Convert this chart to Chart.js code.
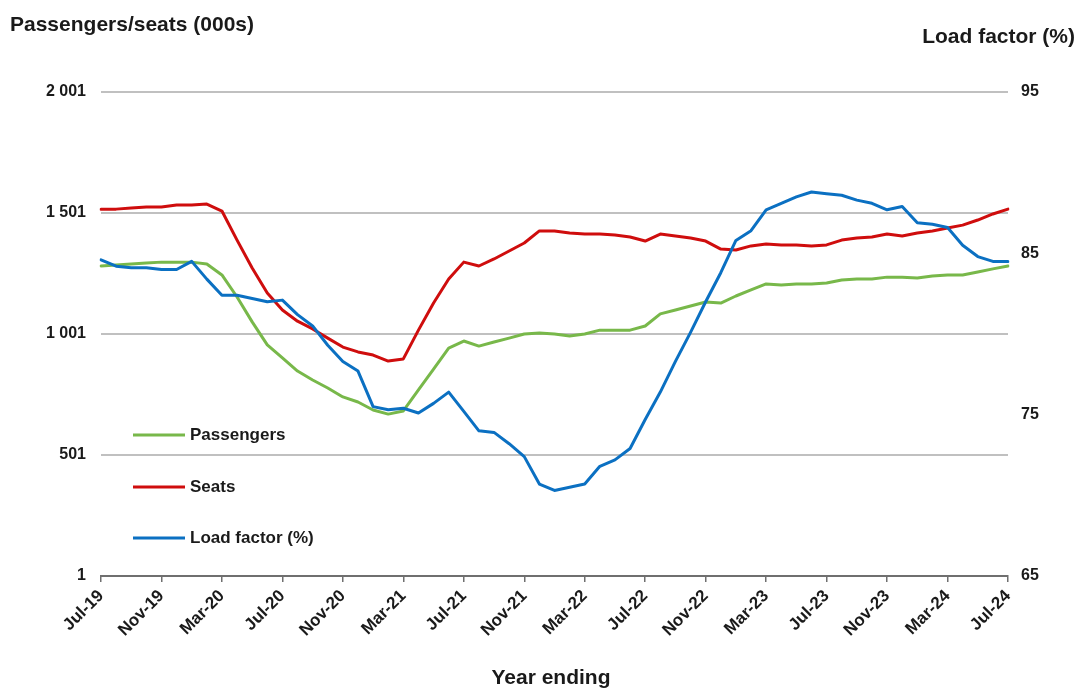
<!DOCTYPE html>
<html>
<head>
<meta charset="utf-8">
<script src="https://cdn.jsdelivr.net/npm/chart.js@4.4.1/dist/chart.umd.min.js"></script>
<style>
  html, body { margin: 0; padding: 0; background: #fff; }
  canvas { display: block; }
</style>
</head>
<body>
<canvas id="chartLoadFactor" width="1083" height="688"></canvas>
<script>
/* ---- données (year ending, Jul-19 -> Jul-24) ---- */
var months = ['Jul-19','Aug-19','Sep-19','Oct-19','Nov-19','Dec-19',
  'Jan-20','Feb-20','Mar-20','Apr-20','May-20','Jun-20','Jul-20','Aug-20','Sep-20','Oct-20','Nov-20','Dec-20',
  'Jan-21','Feb-21','Mar-21','Apr-21','May-21','Jun-21','Jul-21','Aug-21','Sep-21','Oct-21','Nov-21','Dec-21',
  'Jan-22','Feb-22','Mar-22','Apr-22','May-22','Jun-22','Jul-22','Aug-22','Sep-22','Oct-22','Nov-22','Dec-22',
  'Jan-23','Feb-23','Mar-23','Apr-23','May-23','Jun-23','Jul-23','Aug-23','Sep-23','Oct-23','Nov-23','Dec-23',
  'Jan-24','Feb-24','Mar-24','Apr-24','May-24','Jun-24','Jul-24'];

var passengers = [1282, 1286, 1290, 1294, 1298, 1298, 1298, 1290, 1245, 1154, 1051, 956, 902, 848, 811, 778, 741, 720,
  687, 670, 683, 770, 856, 943, 972, 951, 968, 984, 1001, 1005,
  1001, 993, 1001, 1017, 1017, 1017, 1034, 1084, 1100, 1117, 1133, 1129,
  1158, 1183, 1208, 1203, 1208, 1208, 1212, 1224, 1228, 1228, 1236, 1236,
  1232, 1241, 1245, 1245, 1257, 1270, 1282];

var seats = [1517, 1517, 1522, 1526, 1526, 1534, 1534, 1538, 1509, 1389, 1274, 1170, 1100, 1054, 1022, 984, 947, 927,
  914, 889, 898, 1017, 1129, 1228, 1298, 1282, 1311, 1344, 1377, 1427,
  1427, 1418, 1414, 1414, 1410, 1402, 1385, 1414, 1406, 1398, 1385, 1352,
  1348, 1365, 1373, 1369, 1369, 1365, 1369, 1389, 1398, 1402, 1414, 1406,
  1418, 1427, 1439, 1451, 1472, 1497, 1517];

var loadFactor = [84.6, 84.2, 84.1, 84.1, 84.0, 84.0, 84.5, 83.4, 82.4, 82.4, 82.2, 82.0, 82.1, 81.2, 80.5, 79.3, 78.3, 77.7,
  75.5, 75.3, 75.4, 75.1, 75.7, 76.4, 75.2, 74.0, 73.9, 73.2, 72.4, 70.7,
  70.3, 70.5, 70.7, 71.8, 72.2, 72.9, 74.7, 76.4, 78.3, 80.1, 82.0, 83.8,
  85.8, 86.4, 87.7, 88.1, 88.5, 88.8, 88.7, 88.6, 88.3, 88.1, 87.7, 87.9,
  86.9, 86.8, 86.6, 85.5, 84.8, 84.5, 84.5];

var leftTicks = [1, 501, 1001, 1501, 2001];
var rightTicks = [65, 75, 85, 95];
/* ---- fin données ---- */

var police = '"Liberation Sans", Arial, sans-serif';
var noir = '#1a1a1a';

function espaceMilliers(v) {
  return String(v).replace(/\B(?=(\d{3})+(?!\d))/g, ' ');
}

// titres des axes + légende dans la zone du graphe
const textesPlugin = {
  id: 'textes',
  afterDraw: function (chart) {
    const ctx = chart.ctx;
    ctx.save();
    ctx.fillStyle = noir;
    ctx.textBaseline = 'middle';
    ctx.font = 'bold 21px ' + police;
    ctx.textAlign = 'left';
    ctx.fillText('Passengers/seats (000s)', 10, 25);
    ctx.textAlign = 'right';
    ctx.fillText('Load factor (%)', 1075, 37);
    ctx.textAlign = 'center';
    ctx.fillText('Year ending', 551, 678);

    // légende
    var entrees = [
      { ds: 2, y: 435 },
      { ds: 1, y: 487 },
      { ds: 0, y: 538 }
    ];
    ctx.font = 'bold 17px ' + police;
    ctx.textAlign = 'left';
    entrees.forEach(function (e) {
      var ds = chart.data.datasets[e.ds];
      ctx.strokeStyle = ds.borderColor;
      ctx.lineWidth = 3;
      ctx.beginPath();
      ctx.moveTo(133, e.y);
      ctx.lineTo(185, e.y);
      ctx.stroke();
      ctx.fillStyle = noir;
      ctx.fillText(ds.label, 190, e.y);
    });
    ctx.restore();
  }
};

const elem = document.getElementById('chartLoadFactor').getContext('2d');

const chartObj = new Chart(elem, {
  type: 'line',
  data: {
    labels: months,
    datasets: [
      {
        label: 'Load factor (%)',
        data: loadFactor,
        yAxisID: 'y1',
        borderColor: '#0b70c2',
        borderWidth: 3,
        order: 0
      },
      {
        label: 'Seats',
        data: seats,
        yAxisID: 'y',
        borderColor: '#cf0d0d',
        borderWidth: 3,
        order: 1
      },
      {
        label: 'Passengers',
        data: passengers,
        yAxisID: 'y',
        borderColor: '#78b84a',
        borderWidth: 3,
        order: 2
      }
    ]
  },
  options: {
    responsive: false,
    animation: false,
    layout: { padding: { top: 92, left: 0, right: 0, bottom: 0 } },
    elements: {
      point: { radius: 0, hoverRadius: 0 },
      line: { tension: 0, borderCapStyle: 'round', borderJoinStyle: 'round' }
    },
    plugins: {
      legend: { display: false },
      tooltip: { enabled: false },
      title: { display: false }
    },
    scales: {
      x: {
        type: 'category',
        offset: false,
        grid: { drawOnChartArea: false, drawTicks: true, tickLength: 6, color: '#6f6f6f', lineWidth: 1.5 },
        border: { display: true, color: '#6f6f6f', width: 2 },
        ticks: {
          autoSkip: false,
          maxRotation: 45,
          minRotation: 45,
          padding: 4,
          color: noir,
          font: { family: police, size: 17, weight: 'bold' },
          callback: function (val, index) {
            return index % 4 === 0 ? this.getLabelForValue(val) : null;
          }
        },
        afterFit: function (axis) { axis.height = 112; }
      },
      y: {
        position: 'left',
        min: 1,
        max: 2001,
        afterBuildTicks: function (axis) {
          axis.ticks = leftTicks.map(function (v) { return { value: v }; });
        },
        grid: { color: '#c0c0c0', lineWidth: 2, drawTicks: false },
        border: { display: false },
        ticks: {
          padding: 15,
          color: noir,
          font: { family: police, size: 16, weight: 'bold' },
          callback: function (v) { return espaceMilliers(v); }
        },
        afterFit: function (axis) { axis.width = 101; }
      },
      y1: {
        position: 'right',
        min: 65,
        max: 95,
        afterBuildTicks: function (axis) {
          axis.ticks = rightTicks.map(function (v) { return { value: v }; });
        },
        grid: { drawOnChartArea: false, drawTicks: false },
        border: { display: false },
        ticks: {
          padding: 13,
          color: noir,
          font: { family: police, size: 16, weight: 'bold' }
        },
        afterFit: function (axis) { axis.width = 75; }
      }
    }
  },
  plugins: [textesPlugin]
});
</script>
</body>
</html>
